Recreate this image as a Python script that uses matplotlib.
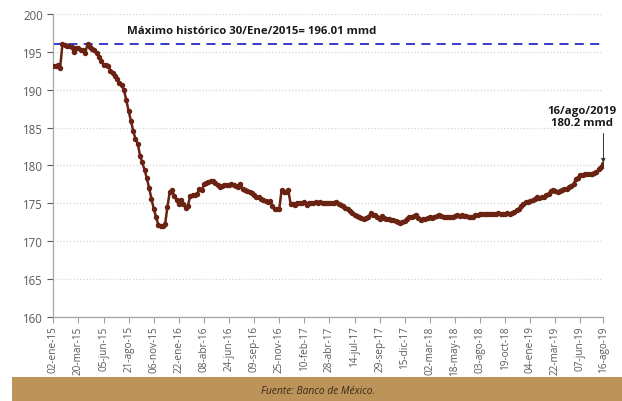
import matplotlib
matplotlib.use("Agg")
import matplotlib.pyplot as plt
from matplotlib.patches import Rectangle

# Reservas internacionales semanales (miles de millones de dólares)
reservas_2015 = [
    193.2, 193.1, 193.3, 192.9, 196.01, 195.9, 195.8, 195.8, 195.6, 195.0,
    195.5, 195.5, 195.3, 195.2, 194.9, 196.0, 195.7, 195.4, 195.2, 194.9,
    194.3, 193.8, 193.3, 193.3, 193.2, 192.5, 192.2, 191.8, 191.4, 190.9,
    190.6, 189.9, 188.6, 187.2, 185.9, 184.6, 183.5, 182.9, 181.3, 180.4,
    179.4, 178.3, 177.0, 175.6, 174.3, 173.2, 172.2, 172.0, 172.0, 172.3,
    174.5, 176.5,
]
reservas_2016 = [
    176.8, 176.0, 175.4, 174.9, 175.4, 174.9, 174.4, 174.7, 176.0, 176.1,
    176.1, 176.2, 176.9, 176.7, 177.5, 177.7, 177.8, 177.9, 178.0, 177.7,
    177.4, 177.1, 177.3, 177.4, 177.4, 177.4, 177.6, 177.4, 177.3, 177.2,
    177.5, 176.9, 176.7, 176.6, 176.5, 176.4, 176.1, 175.9, 175.9, 175.6,
    175.4, 175.3, 175.2, 175.3, 174.7, 174.3, 174.2, 174.2, 176.7, 176.5,
    176.5, 176.7, 174.9,
]
reservas_2017 = [
    174.9, 174.8, 175.0, 175.0, 175.1, 175.2, 174.8, 175.0, 175.1, 175.1,
    175.15, 175.1, 175.15, 175.1, 175.05, 175.1, 175.0, 175.05, 175.1, 175.2,
    174.9, 174.8, 174.6, 174.4, 174.2, 174.0, 173.7, 173.4, 173.3, 173.15,
    173.1, 173.0, 173.1, 173.15, 173.7, 173.5, 173.45, 173.2, 173.0, 173.3,
    173.1, 173.0, 172.9, 172.85, 172.8, 172.7, 172.6, 172.4, 172.5, 172.7,
    173.0, 173.15,
]
reservas_2018 = [
    173.15, 173.3, 173.4, 173.1, 172.85, 173.0, 173.0, 173.1, 173.15, 173.1,
    173.15, 173.3, 173.45, 173.3, 173.2, 173.15, 173.15, 173.2, 173.15, 173.3,
    173.4, 173.35, 173.4, 173.3, 173.35, 173.2, 173.15, 173.2, 173.4, 173.5,
    173.6, 173.6, 173.55, 173.6, 173.65, 173.6, 173.55, 173.6, 173.7, 173.6,
    173.6, 173.65, 173.7, 173.6, 173.7, 173.9, 174.1, 174.3, 174.6, 174.9,
    175.15, 175.2,
]
reservas_2019 = [
    175.3, 175.4, 175.6, 175.8, 175.7, 175.8, 175.9, 176.1, 176.3, 176.6,
    176.7, 176.6, 176.55, 176.6, 176.8, 176.9, 176.95, 177.1, 177.3, 177.6,
    178.2, 178.4, 178.75, 178.8, 178.9, 178.85, 178.9, 178.9, 179.0, 179.1,
    179.5, 179.8, 180.2,
]

etiquetas_x = [
    "02-ene-15", "20-mar-15", "05-jun-15", "21-ago-15", "06-nov-15",
    "22-ene-16", "08-abr-16", "24-jun-16", "09-sep-16", "25-nov-16",
    "10-feb-17", "28-abr-17", "14-jul-17", "29-sep-17", "15-dic-17",
    "02-mar-18", "18-may-18", "03-ago-18", "19-oct-18", "04-ene-19",
    "22-mar-19", "07-jun-19", "16-ago-19",
]
semanas_entre_etiquetas = 11

maximo_historico = 196.01
texto_maximo = "Máximo histórico 30/Ene/2015= 196.01 mmd"
texto_ultimo = "16/ago/2019\n180.2 mmd"
fuente = "Fuente: Banco de México."

reservas = reservas_2015 + reservas_2016 + reservas_2017 + reservas_2018 + reservas_2019
x = list(range(len(reservas)))
ultimo = len(reservas) - 1

gris = "#595959"
cafe = "#6a2312"

plt.rcParams["font.family"] = ["Open Sans", "DejaVu Sans"]

fig = plt.figure(figsize=(6.22, 4.02), dpi=100)
ax = fig.add_axes([0.0857, 0.2090, 0.8842, 0.7537])

ax.plot(x, reservas, color=cafe, lw=1.8, marker="o", ms=2.9,
        mec=cafe, mfc=cafe, zorder=3)
ax.axhline(maximo_historico, color="#2a2ac8", lw=1.3, ls=(0, (5, 3.5)), zorder=2)

ax.set_xlim(0, ultimo)
ax.set_ylim(160, 200)
ax.set_yticks(range(160, 201, 5))
ticks = list(range(0, ultimo, semanas_entre_etiquetas))[: len(etiquetas_x) - 1] + [ultimo]
ax.set_xticks(ticks)
ax.set_xticklabels(etiquetas_x, rotation=90, fontsize=7.2, color=gris)
ax.tick_params(axis="y", labelsize=8.3, colors=gris, length=4, width=0.8)
ax.tick_params(axis="x", length=4, width=0.8, colors="#a0a0a0", labelcolor=gris, pad=2)

ax.grid(axis="y", color="#d4d4d4", ls=":", lw=0.9)
for s in ["top", "right"]:
    ax.spines[s].set_visible(False)
for s in ["left", "bottom"]:
    ax.spines[s].set_color("#a6a6a6")
    ax.spines[s].set_linewidth(0.9)

ax.text(0.36, 0.946, texto_maximo, transform=ax.transAxes, ha="center", va="center",
        fontsize=8.2, fontweight="bold", color="#1a1a1a")

ax.annotate(texto_ultimo, xy=(ultimo, reservas[-1] + 0.15), xytext=(ultimo - 9.5, 185.0),
            ha="center", va="bottom", fontsize=8.2, fontweight="bold", color="#1a1a1a",
            linespacing=1.1,
            arrowprops=dict(arrowstyle="-|>", color="#303030", lw=0.7,
                            mutation_scale=6, shrinkA=2, shrinkB=0,
                            connectionstyle="angle,angleA=0,angleB=90,rad=0",
                            relpos=(0.5, 0)))

fig.patches.append(Rectangle((12 / 622, 0), 1 - 12 / 622, 24 / 402,
                             transform=fig.transFigure, facecolor="#bc945a",
                             edgecolor="none", zorder=0))
fig.text(318 / 622, 10 / 402, fuente, ha="center", va="center", fontsize=7.4,
         style="italic", color="#3a2a1a")

fig.savefig("out.png", dpi=100)
